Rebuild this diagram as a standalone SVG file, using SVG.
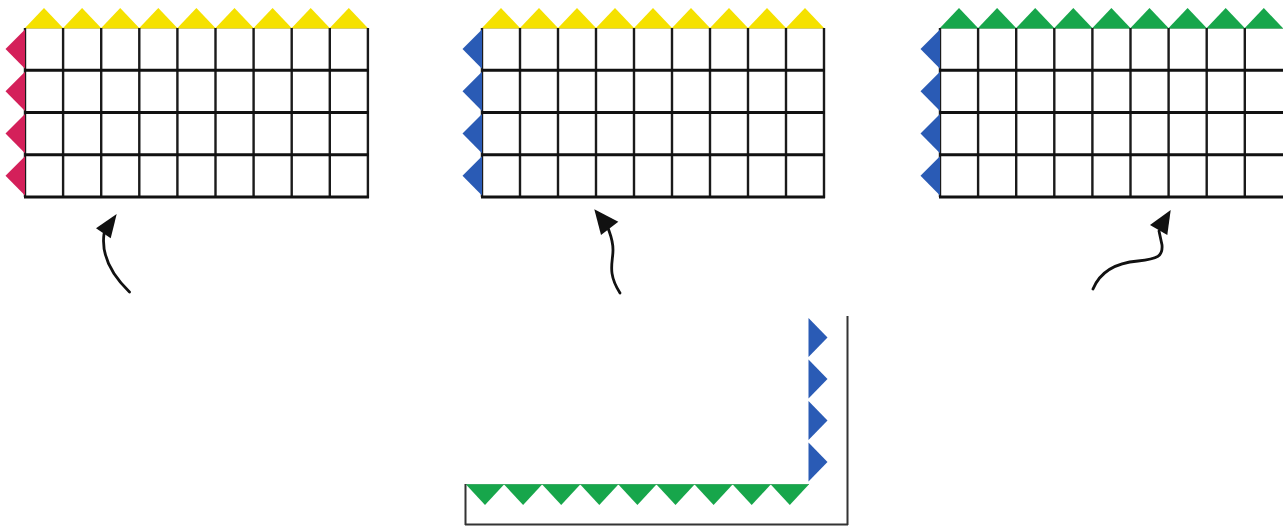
<svg xmlns="http://www.w3.org/2000/svg" xmlns:xlink="http://www.w3.org/1999/xlink" width="1283" height="527" viewBox="0 0 1283 527">
<style>
.bg{fill:#ffffff}
.v{stroke:#1a1a1a;stroke-width:2.4;fill:none}
.h{stroke:#111111;stroke-width:3.2;fill:none}
.yel{fill:#f5e100}
.red{fill:#d4205a}
.blu{fill:#2a5bb5}
.grn{fill:#17a64b}
.ytop{stroke:#d8cf6a;stroke-width:1;fill:none}
.gtop{stroke:#5fb07a;stroke-width:1;fill:none}
.lline{stroke:#333333;stroke-width:2;fill:none}
.shaft{stroke:#111111;stroke-width:2.8;fill:none;stroke-linecap:round}
.head{fill:#111111}
</style>
<defs>
<polygon id="tu" points="0,0 19,-20 38,0"/>
<polygon id="tl" points="0,0 -19.5,19.6 0,39.2"/>
<polygon id="td" points="0,0 19,20.5 38,0"/>
<polygon id="tr" points="0,0 19,19.5 0,39"/>
</defs>
<rect class="bg" x="0" y="0" width="1283" height="527"/>

<g id="grid1">
<path class="ytop" d="M25,28.5 H368"/>
<path class="v" d="M25,28 V197 M63.1,28 V197 M101.2,28 V197 M139.3,28 V197 M177.4,28 V197 M215.5,28 V197 M253.6,28 V197 M291.7,28 V197 M329.8,28 V197 M367.9,28 V198"/>
<path class="h" d="M25,70.25 H369 M25,112.5 H369 M25,154.75 H369 M24,197 H369"/>
<g class="yel">
<use xlink:href="#tu" x="25" y="28"/><use xlink:href="#tu" x="63.1" y="28"/><use xlink:href="#tu" x="101.2" y="28"/><use xlink:href="#tu" x="139.3" y="28"/><use xlink:href="#tu" x="177.4" y="28"/><use xlink:href="#tu" x="215.5" y="28"/><use xlink:href="#tu" x="253.6" y="28"/><use xlink:href="#tu" x="291.7" y="28"/><use xlink:href="#tu" x="329.8" y="28"/>
</g>
<g class="red">
<use xlink:href="#tl" x="25" y="29.5"/><use xlink:href="#tl" x="25" y="71.75"/><use xlink:href="#tl" x="25" y="114"/><use xlink:href="#tl" x="25" y="156.25"/>
</g>
</g>

<g id="grid2">
<path class="ytop" d="M482,28.5 H824"/>
<path class="v" d="M482,28 V197 M520,28 V197 M558,28 V197 M596,28 V197 M634,28 V197 M672,28 V197 M710,28 V197 M748,28 V197 M786,28 V197 M824,28 V198"/>
<path class="h" d="M482,70.25 H825 M482,112.5 H825 M482,154.75 H825 M481,197 H825"/>
<g class="yel">
<use xlink:href="#tu" x="482" y="28"/><use xlink:href="#tu" x="520" y="28"/><use xlink:href="#tu" x="558" y="28"/><use xlink:href="#tu" x="596" y="28"/><use xlink:href="#tu" x="634" y="28"/><use xlink:href="#tu" x="672" y="28"/><use xlink:href="#tu" x="710" y="28"/><use xlink:href="#tu" x="748" y="28"/><use xlink:href="#tu" x="786" y="28"/>
</g>
<g class="blu">
<use xlink:href="#tl" x="482" y="29.5"/><use xlink:href="#tl" x="482" y="71.75"/><use xlink:href="#tl" x="482" y="114"/><use xlink:href="#tl" x="482" y="156.25"/>
</g>
</g>

<g id="grid3">
<path class="gtop" d="M940,28.5 H1283"/>
<path class="v" d="M940,28 V197 M978.1,28 V197 M1016.2,28 V197 M1054.3,28 V197 M1092.4,28 V197 M1130.5,28 V197 M1168.6,28 V197 M1206.7,28 V197 M1244.8,28 V197"/>
<path class="h" d="M940,70.25 H1283 M940,112.5 H1283 M940,154.75 H1283 M939,197 H1283"/>
<g class="grn">
<use xlink:href="#tu" x="940" y="28"/><use xlink:href="#tu" x="978.1" y="28"/><use xlink:href="#tu" x="1016.2" y="28"/><use xlink:href="#tu" x="1054.3" y="28"/><use xlink:href="#tu" x="1092.4" y="28"/><use xlink:href="#tu" x="1130.5" y="28"/><use xlink:href="#tu" x="1168.6" y="28"/><use xlink:href="#tu" x="1206.7" y="28"/><use xlink:href="#tu" x="1244.8" y="28"/>
</g>
<g class="blu">
<use xlink:href="#tl" x="940" y="29.5"/><use xlink:href="#tl" x="940" y="71.75"/><use xlink:href="#tl" x="940" y="114"/><use xlink:href="#tl" x="940" y="156.25"/>
</g>
</g>

<g id="corner">
<path class="gtop" d="M466,484.5 H809"/>
<path class="lline" d="M465.5,484 V525 M465,524.5 H848 M847.5,316 V525"/>
<g class="grn">
<use xlink:href="#td" x="466" y="484.5"/><use xlink:href="#td" x="504.1" y="484.5"/><use xlink:href="#td" x="542.2" y="484.5"/><use xlink:href="#td" x="580.3" y="484.5"/><use xlink:href="#td" x="618.4" y="484.5"/><use xlink:href="#td" x="656.5" y="484.5"/><use xlink:href="#td" x="694.6" y="484.5"/><use xlink:href="#td" x="732.7" y="484.5"/><use xlink:href="#td" x="770.8" y="484.5"/>
</g>
<g class="blu">
<use xlink:href="#tr" x="808.5" y="318"/><use xlink:href="#tr" x="808.5" y="359.5"/><use xlink:href="#tr" x="808.5" y="401"/><use xlink:href="#tr" x="808.5" y="442.5"/>
</g>
</g>

<g id="connectors">
<path class="shaft" d="M129.5,292 C113,276 101,256 104,234"/>
<polygon class="head" points="116.7,214 96,228.3 110.7,238.3"/>
<path class="shaft" d="M620,293 C607,273 613,262 613,250 C613,240 610,234 608,228"/>
<polygon class="head" points="594.3,209.3 618.3,221.7 601,235"/>
<path class="shaft" d="M1093,289 C1100,272 1114,263 1138,261 C1158,259 1163,256 1162,245 L1159,231"/>
<polygon class="head" points="1170.7,210 1150,225 1167.3,235"/>
</g>
</svg>
